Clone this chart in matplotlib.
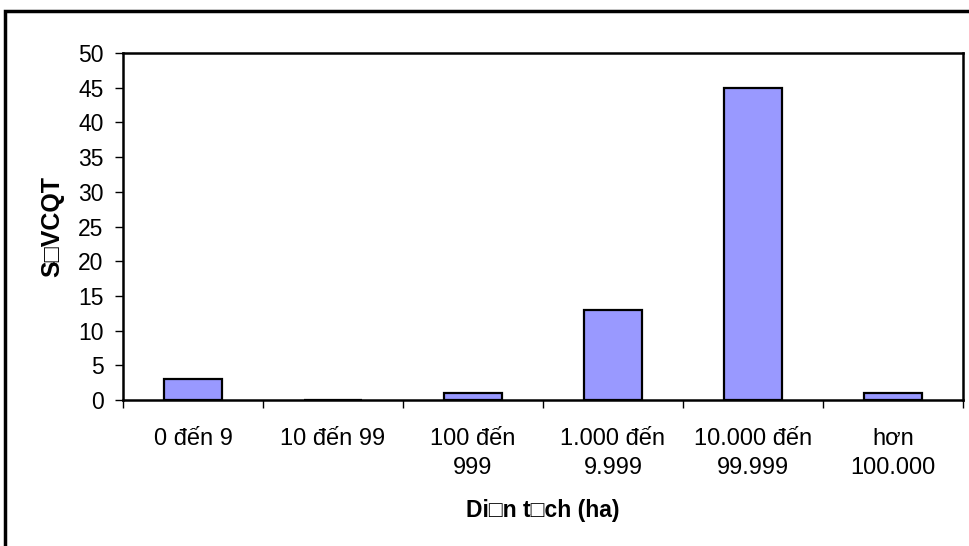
import matplotlib
matplotlib.use("Agg")
import matplotlib.pyplot as plt
from matplotlib.patches import Rectangle
from matplotlib.ticker import FixedLocator, MultipleLocator

plt.rcParams['font.family'] = ['Liberation Sans', 'DejaVu Sans']

categories = ["0 đến 9", "10 đến 99", "100 đến\n999", "1.000 đến\n9.999", "10.000 đến\n99.999", "hơn\n100.000"]
values = [3, 0, 1, 13, 45, 1]
y_label = "S\u25a1VCQT"
x_label = "Di\u25a1n t\u25a1ch (ha)"

W, H = 969, 546
fig = plt.figure(figsize=(W / 100, H / 100), dpi=100)
fig.patch.set_facecolor("white")

# figure frame (cropped on right/bottom)
fig.patches.append(Rectangle((4.5 / W, -0.05), 1.2, 1.05 - 11.5 / H,
                             transform=fig.transFigure, fill=False,
                             edgecolor="black", linewidth=2.5, clip_on=False))

ax = fig.add_axes([123 / W, (H - 400) / H, 840 / W, 347 / H])
x = list(range(len(categories)))
ax.bar(x, values, width=0.41, color="#9999FF", edgecolor="black", linewidth=1.6, zorder=2)

ax.set_xlim(-0.5, len(categories) - 0.5)
ax.set_ylim(0, 50)
ax.yaxis.set_major_locator(MultipleLocator(5))
ax.set_xticks(x)
ax.set_xticklabels(categories, fontsize=17)
for lbl in ax.get_xticklabels():
    lbl.set_linespacing(1.4)
ax.xaxis.set_minor_locator(FixedLocator([i - 0.5 for i in range(len(categories) + 1)]))
ax.tick_params(axis="x", which="major", length=0, pad=20)
ax.tick_params(axis="x", which="minor", length=6, width=1, direction="out")
ax.tick_params(axis="y", which="major", length=6, width=1, direction="out", labelsize=16.5, pad=8)

for s in ax.spines.values():
    s.set_linewidth(1.8)
    s.set_color("black")
    s.set_zorder(3)

ax.set_ylabel(y_label, fontsize=18, fontweight="bold", labelpad=10)
ax.set_xlabel(x_label, fontsize=16.5, fontweight="bold", labelpad=15)

fig.savefig("out.png", dpi=100)
